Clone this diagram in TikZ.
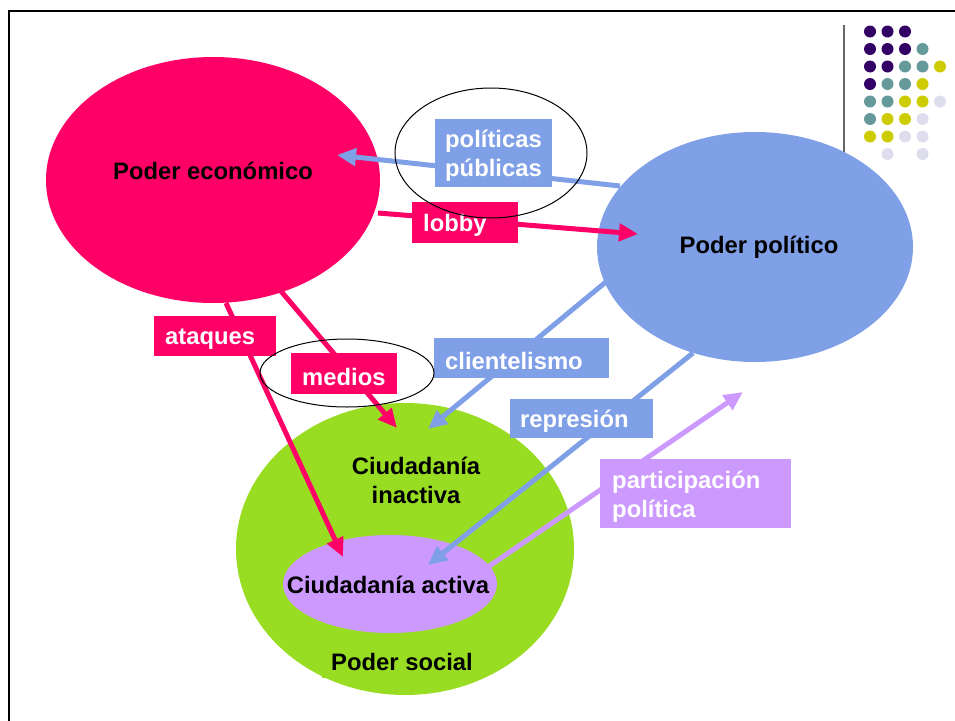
\documentclass[tikz,border=0pt]{standalone}
\usepackage{fontspec}
\setmainfont{Liberation Sans}
\usetikzlibrary{shapes.geometric,arrows.meta}
\definecolor{cpink}{HTML}{FF0066}
\definecolor{cblue}{HTML}{7F9FE6}
\definecolor{cgreen}{HTML}{99DD22}
\definecolor{clav}{HTML}{CC99FF}
\definecolor{dP}{HTML}{330066}
\definecolor{dT}{HTML}{669999}
\definecolor{dY}{HTML}{CCCC00}
\definecolor{dL}{HTML}{DDDDEE}
\tikzset{
  blob/.style={ellipse, inner sep=0pt},
  txt/.style={font=\fontsize{23.8}{29}\selectfont\bfseries, text=black, align=center, inner sep=0pt},
  lblbox/.style={rectangle, anchor=north west, inner sep=0pt},
  lbltext/.style={anchor=west, font=\fontsize{23.8}{29}\selectfont\bfseries, text=white, align=left, inner sep=0pt, yshift=-3pt},
  conn/.style={line width=5pt, -{Triangle[length=19pt,width=17pt]}},
  ring/.style={ellipse, draw=black, line width=1pt, inner sep=0pt}
}
\begin{document}
\begin{tikzpicture}[x=1pt,y=-1pt]
\useasboundingbox (0,0) rectangle (955,720);
\clip (0,0) rectangle (955,720);
% frame
\draw[line width=2.5pt] (9,11) rectangle (1000,800);
% decorative line and dots
\draw[line width=1.5pt, gray!80!black] (844,25) -- (844,200);
\foreach \cl/\i/\j in {dP/1/1,dP/2/1,dP/3/1,
  dP/1/2,dP/2/2,dP/3/2,dT/4/2,
  dP/1/3,dP/2/3,dT/3/3,dT/4/3,dY/5/3,
  dP/1/4,dT/2/4,dT/3/4,dY/4/4,
  dT/1/5,dT/2/5,dY/3/5,dY/4/5,dL/5/5,
  dT/1/6,dY/2/6,dY/3/6,dL/4/6,
  dY/1/7,dY/2/7,dL/3/7,dL/4/7,
  dL/2/8,dL/4/8}
  \fill[\cl] (852.5+17.5*\i, 14+17.5*\j) circle (6);
% main ellipses
\node[blob, fill=cpink, minimum width=334pt, minimum height=246pt] (econ) at (213,180) {};
\node[blob, fill=cblue, minimum width=316pt, minimum height=230pt] (polit) at (755,247) {};
\node[blob, fill=cgreen, minimum width=338pt, minimum height=292pt] (social) at (405,549) {};
\node[blob, fill=clav, minimum width=214pt, minimum height=98pt] (activa) at (390,584) {};
% texts
\node[txt] (econT) at (213,171) {Poder económico};
\node[txt] (politT) at (759,247) {Poder político};
\node[txt] (inact) at (416,480) {Ciudadanía\\inactiva};
\node[txt] (activaT) at (388,585) {Ciudadanía activa};
\node[txt, fill=cgreen, minimum width=160pt, minimum height=32pt] (socialT) at (402,662) {Poder social};
% connector end points
\coordinate (ppS) at (620,186);  \coordinate (ppE) at (337,155);
\coordinate (lbS) at (378,213);  \coordinate (lbE) at (638,234);
\coordinate (atS) at (226,303);  \coordinate (atE) at (343,557);
\coordinate (meS) at (280,290);  \coordinate (meE) at (397,428);
\coordinate (clS) at (607,281);  \coordinate (clE) at (428,429);
\coordinate (reS) at (693,353);  \coordinate (reE) at (428,565);
\coordinate (paS) at (488,567);  \coordinate (paE) at (743,392);
% connectors
\draw[conn, cblue] (ppS) -- (ppE);
\draw[conn, cpink] (lbS) -- (lbE);
\draw[conn, cpink] (atS) -- (atE);
\draw[conn, cpink] (meS) -- (meE);
\draw[conn, cblue] (clS) -- (clE);
\draw[conn, cblue] (reS) -- (reE);
\draw[conn, clav] (paS) -- (paE);
% labels
\node[lblbox, fill=cblue, minimum width=117pt, minimum height=68pt] (lpp) at (435,119) {};
\node[lbltext, xshift=10pt] (lppT) at (lpp.west) {políticas\\públicas};
\node[lblbox, fill=cpink, minimum width=106pt, minimum height=41pt] (llb) at (412,202) {};
\node[lbltext, xshift=11pt] (llbT) at (llb.west) {lobby};
\node[lblbox, fill=cpink, minimum width=122pt, minimum height=40pt] (lat) at (154,316) {};
\node[lbltext, xshift=11pt] (latT) at (lat.west) {ataques};
\node[lblbox, fill=cpink, minimum width=106pt, minimum height=41pt] (lme) at (291,353) {};
\node[lbltext, xshift=11pt] (lmeT) at (lme.west) {medios};
\node[lblbox, fill=cblue, minimum width=175pt, minimum height=40pt] (lcl) at (434,338) {};
\node[lbltext, xshift=11pt] (lclT) at (lcl.west) {clientelismo};
\node[lblbox, fill=cblue, minimum width=143pt, minimum height=39pt] (lre) at (510,399) {};
\node[lbltext, xshift=10pt] (lreT) at (lre.west) {represión};
\node[lblbox, fill=clav, minimum width=191pt, minimum height=69pt] (lpa) at (600,459) {};
\node[lbltext, xshift=12pt] (lpaT) at (lpa.west) {participación\\política};
% rings
\node[ring, minimum width=192pt, minimum height=130pt] (ringpp) at (491,153) {};
\node[ring, minimum width=174pt, minimum height=68pt] (ringme) at (347,373) {};
\end{tikzpicture}
\end{document}
